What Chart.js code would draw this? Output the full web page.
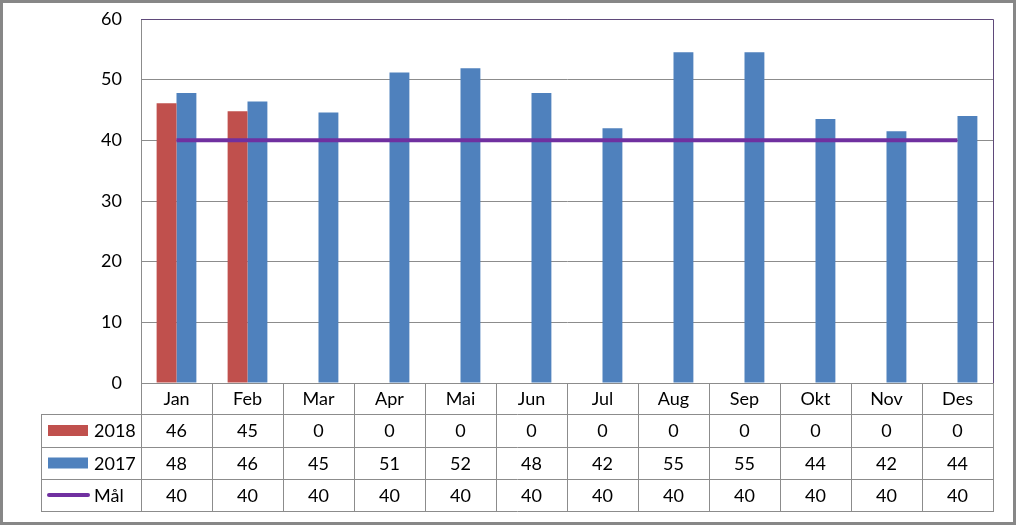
<!DOCTYPE html>
<html>
<head>
<meta charset="utf-8">
<script src="https://cdn.jsdelivr.net/npm/chart.js@4/dist/chart.umd.min.js"></script>
<style>
html,body{margin:0;padding:0;background:#fff;}
canvas{display:block;}
</style>
</head>
<body>
<canvas id="c" width="1016" height="525"></canvas>
<script>
const categories = ['Jan','Feb','Mar','Apr','Mai','Jun','Jul','Aug','Sep','Okt','Nov','Des'];
const values2018 = [46.1, 44.8, 0, 0, 0, 0, 0, 0, 0, 0, 0, 0];
const values2017 = [47.8, 46.4, 44.6, 51.2, 51.9, 47.8, 42.0, 54.5, 54.5, 43.5, 41.5, 44.0];
const valuesMaal = [40, 40, 40, 40, 40, 40, 40, 40, 40, 40, 40, 40];
const yTicks = [0, 10, 20, 30, 40, 50, 60];

const RED = '#C0504D', BLUE = '#4F81BD', PURPLE = '#7030A0';
const GRID = '#8C8C8C', FRAME = '#5F497A';
const FONT = 'Lato, "Open Sans", sans-serif';
const FS = 18;

const tablePlugin = {
  id: 'dataTable',
  beforeDraw(chart) {
    const ctx = chart.ctx;
    ctx.save();
    ctx.fillStyle = '#fff';
    ctx.fillRect(0, 0, chart.width, chart.height);
    ctx.restore();
  },
  afterDraw(chart) {
    const ctx = chart.ctx;
    const a = chart.chartArea;
    const xs = chart.scales.x;
    const n = categories.length;
    const colW = (a.right - a.left) / n;
    const legendLeft = 41;
    const rows = [a.bottom, a.bottom + 31, a.bottom + 64, a.bottom + 96, a.bottom + 128];
    ctx.save();
    // plot frame top/right
    ctx.strokeStyle = FRAME; ctx.lineWidth = 1;
    ctx.beginPath();
    ctx.moveTo(a.left, Math.round(a.top) + 0.5); ctx.lineTo(Math.round(a.right) + 0.5, Math.round(a.top) + 0.5);
    ctx.lineTo(Math.round(a.right) + 0.5, a.bottom);
    ctx.stroke();
    // table lines
    ctx.strokeStyle = GRID; ctx.lineWidth = 1;
    ctx.beginPath();
    for (let r = 1; r < rows.length; r++) {
      ctx.moveTo(legendLeft, Math.round(rows[r]) + 0.5);
      ctx.lineTo(a.right + 1, Math.round(rows[r]) + 0.5);
    }
    for (let i = 0; i <= n; i++) {
      const xx = Math.round(a.left + i * colW) + 0.5;
      ctx.moveTo(xx, a.bottom); ctx.lineTo(xx, rows[4] + 1);
    }
    ctx.moveTo(legendLeft + 0.5, rows[1]); ctx.lineTo(legendLeft + 0.5, rows[4] + 1);
    ctx.stroke();
    // legend keys + labels + values
    const series = [
      {label: '2018', data: values2018, color: RED, kind: 'bar'},
      {label: '2017', data: values2017, color: BLUE, kind: 'bar'},
      {label: 'Mål', data: valuesMaal, color: PURPLE, kind: 'line'}
    ];
    ctx.font = FS + 'px ' + FONT;
    ctx.fillStyle = '#000';
    ctx.textBaseline = 'middle';
    series.forEach((s, r) => {
      const cy = (rows[r + 1] + rows[r + 2]) / 2;
      if (s.kind === 'bar') {
        ctx.fillStyle = s.color;
        ctx.fillRect(48, cy - 5.5, 40, 11);
      } else {
        ctx.strokeStyle = s.color; ctx.lineWidth = 4; ctx.lineCap = 'round';
        ctx.beginPath(); ctx.moveTo(49, cy); ctx.lineTo(88, cy); ctx.stroke();
      }
      ctx.fillStyle = '#000';
      ctx.textAlign = 'left';
      ctx.fillText(s.label, 94, cy + 1);
      ctx.textAlign = 'center';
      s.data.forEach((v, i) => {
        ctx.fillText(String(Math.round(v)), xs.getPixelForValue(i), cy + 1);
      });
    });
    // outer border
    ctx.strokeStyle = '#878787'; ctx.lineWidth = 3;
    ctx.strokeRect(1.5, 1.5, chart.width - 3, chart.height - 3);
    ctx.restore();
  }
};

new Chart(document.getElementById('c'), {
  data: {
    labels: categories,
    datasets: [
      {type: 'line', label: 'Mål', data: valuesMaal, borderColor: PURPLE, backgroundColor: PURPLE,
       borderWidth: 4, pointRadius: 0, order: 0},
      {type: 'bar', label: '2018', data: values2018, backgroundColor: RED, order: 1,
       categoryPercentage: 0.56, barPercentage: 1},
      {type: 'bar', label: '2017', data: values2017, backgroundColor: BLUE, order: 1,
       categoryPercentage: 0.56, barPercentage: 1}
    ]
  },
  options: {
    responsive: false,
    animation: false,
    devicePixelRatio: 1,
    layout: {padding: {left: 0, top: 19, right: 23, bottom: 111}},
    plugins: {legend: {display: false}, tooltip: {enabled: false}},
    scales: {
      x: {
        offset: true,
        grid: {display: true, color: 'rgba(0,0,0,0)', drawTicks: false},
        border: {display: true, color: GRID},
        ticks: {font: {family: FONT, size: FS}, color: '#000', padding: 5, maxRotation: 0},
        afterFit(s) { s.height = 31; s.paddingLeft = 0; s.paddingRight = 0; }
      },
      y: {
        min: 0, max: 60,
        afterBuildTicks(s) { s.ticks = yTicks.map(v => ({value: v})); },
        grid: {color: c => (c.tick && c.tick.value === 60) ? FRAME : GRID, drawTicks: false},
        border: {display: true, color: GRID},
        ticks: {font: {family: FONT, size: FS}, color: '#000', padding: 19},
        afterFit(s) { s.width = 141; s.paddingTop = 0; s.paddingBottom = 0; }
      }
    }
  },
  plugins: [tablePlugin]
});
</script>
</body>
</html>
